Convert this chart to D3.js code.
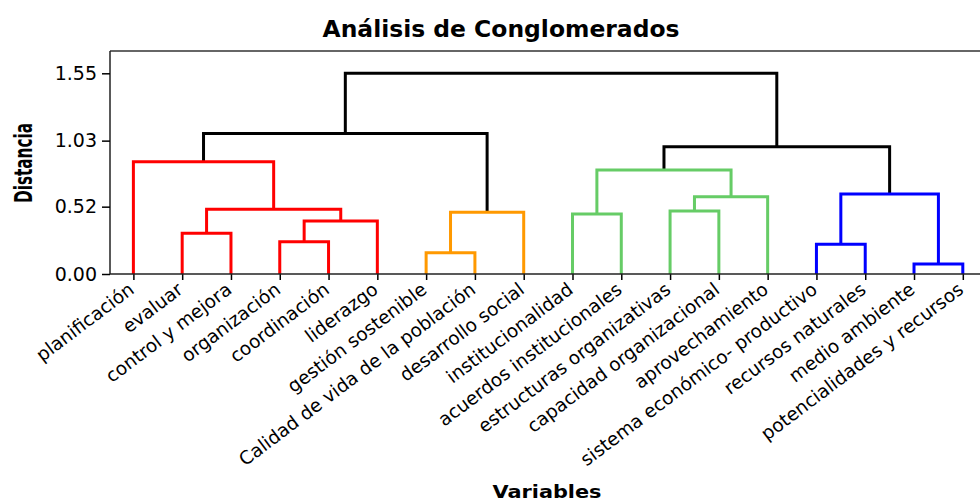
<!DOCTYPE html>
<html><head><meta charset="utf-8">
<script src="https://cdn.jsdelivr.net/npm/d3@7"></script>
<style>body{margin:0;background:#fff}svg{display:block}</style>
</head><body>
<svg id="c" width="980" height="502"></svg>
<script>
// ---- data ----
const leaves = ["planificación","evaluar","control y mejora","organización","coordinación","liderazgo",
  "gestión sostenible","Calidad de vida de la población","desarrollo social",
  "institucionalidad","acuerdos institucionales","estructuras organizativas","capacidad organizacional","aprovechamiento",
  "sistema económico- productivo","recursos naturales","medio ambiente","potencialidades y recursos"];
const leafCluster = ["r","r","r","r","r","r","o","o","o","g","g","g","g","g","b","b","b","b"];
const clusterColors = {r:"#ff0000", o:"#ff9900", g:"#66cc66", b:"#0000ff"};
// linkage: [left id, right id, distance]; new node ids start at 18
const mergeLeft  = [16, 6, 14, 3, 1, 21, 9, 19, 11, 22, 26, 20, 24, 0, 30, 31, 33];
const mergeRight = [17, 7, 15, 4, 2, 5, 10, 8, 12, 23, 13, 18, 28, 27, 29, 25, 32];
const mergeDist  = [0.077,0.165,0.229,0.249,0.314,0.409,0.463,0.476,0.486,0.50,0.597,0.618,0.803,0.867,0.983,1.086,1.55];
const yTicks = [0, 0.52, 1.03, 1.55];

// ---- build tree ----
const nodes = leaves.map((name,i)=>({id:i,name,dist:0,cluster:leafCluster[i]}));
mergeLeft.forEach((l,k)=>{
  const a=nodes[l], b=nodes[mergeRight[k]];
  nodes.push({id:leaves.length+k, children:[a,b], dist:mergeDist[k],
    cluster: a.cluster===b.cluster ? a.cluster : null});
});
const root = d3.hierarchy(nodes[nodes.length-1]);

const svg = d3.select("#c");
const L=110, T=51, B=274, R=980;
const x = d3.scalePoint().domain(leaves).range([109, 987.2]).padding(0.5);
const y = d3.scaleLinear().domain([0,1.55]).range([B, 73.3]);

root.eachAfter(n=>{
  n.px = n.children ? d3.mean(n.children, c=>c.px) : x(n.data.name);
  n.py = y(n.data.dist);
});

// frame top line
svg.append("line").attr("x1",L).attr("x2",R).attr("y1",T).attr("y2",T)
  .attr("stroke","#333").attr("stroke-width",1.5);

// links
const g = svg.append("g").attr("fill","none").attr("stroke-width",3).attr("stroke-linejoin","miter");
root.descendants().filter(n=>n.children).forEach(n=>{
  const [a,b]=n.children;
  const col = n.data.cluster ? clusterColors[n.data.cluster] : "#000";
  g.append("path")
   .attr("d",`M${a.px},${a.py}V${n.py}H${b.px}V${b.py}`)
   .attr("stroke",col).attr("stroke-linecap","butt");
});

// x axis
const xa = svg.append("g").attr("transform",`translate(0,${B})`)
  .call(d3.axisBottom(x).tickSize(6).tickFormat(""));
xa.select(".domain").remove();
xa.selectAll(".tick line").attr("stroke","#000").attr("stroke-width",1.5);
svg.append("line").attr("x1",L).attr("x2",R).attr("y1",B).attr("y2",B)
  .attr("stroke","#222").attr("stroke-width",1.5);

// leaf labels
svg.append("g").selectAll("text").data(leaves).join("text")
  .attr("transform",d=>`translate(${x(d)+2},${B+18}) rotate(-37)`)
  .attr("text-anchor","end")
  .attr("font-family","DejaVu Sans, Verdana, sans-serif")
  .attr("font-size",18.5).attr("fill","#000")
  .text(d=>d);

// y axis
const ya = svg.append("g").attr("transform",`translate(${L},0)`)
  .call(d3.axisLeft(y).tickValues(yTicks).tickFormat(d3.format(".2f")).tickSize(8).tickPadding(5));
ya.select(".domain").attr("d",`M0,${T}V${B}`).attr("stroke","#222").attr("stroke-width",1.5);
ya.selectAll(".tick line").attr("stroke","#000").attr("stroke-width",1.5);
ya.selectAll(".tick text").attr("font-family","DejaVu Sans, Verdana, sans-serif").attr("font-size",19).attr("fill","#000");

// titles
svg.append("text").attr("x",501).attr("y",36.5).attr("text-anchor","middle")
  .attr("font-family","DejaVu Sans, Verdana, sans-serif").attr("font-weight","bold").attr("font-size",23)
  .attr("textLength",357).attr("lengthAdjust","spacingAndGlyphs")
  .text("Análisis de Conglomerados");
svg.append("text").attr("x",547).attr("y",497.5).attr("text-anchor","middle")
  .attr("font-family","DejaVu Sans, Verdana, sans-serif").attr("font-weight","bold").attr("font-size",17)
  .attr("textLength",109).attr("lengthAdjust","spacingAndGlyphs")
  .text("Variables");
svg.append("text").attr("transform","translate(32,163) rotate(-90)").attr("text-anchor","middle")
  .attr("font-family","Liberation Sans Narrow, DejaVu Sans Condensed, DejaVu Sans, sans-serif").attr("font-weight","bold").attr("font-size",25)
  .attr("textLength",80).attr("lengthAdjust","spacingAndGlyphs")
  .text("Distancia");
</script>
</body></html>
